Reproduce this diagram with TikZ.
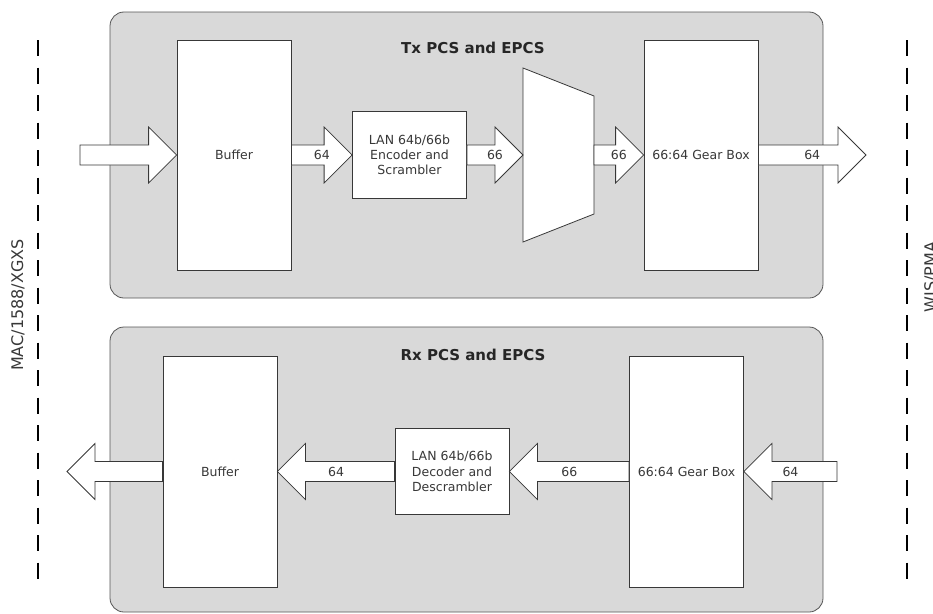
\documentclass[tikz,border=0pt]{standalone}
\usepackage{fontspec}
\setmainfont{DejaVu Sans}
\usetikzlibrary{calc}

\definecolor{panelgray}{HTML}{D9D9D9}
\definecolor{linegray}{HTML}{383838}

\tikzset{
  panel/.style={draw=linegray!85, fill=panelgray, rounded corners=14pt, line width=0.8pt},
  blk/.style={draw=linegray, fill=white, line width=0.8pt, align=center,
    text=linegray, font=\fontsize{12.5}{15.3}\selectfont},
  lbl/.style={text=linegray, font=\fontsize{12.5}{15.3}\selectfont, inner sep=0pt},
  ttl/.style={text=black!85, font=\fontsize{15}{18}\selectfont\bfseries},
  side/.style={text=linegray, font=\fontsize{16}{19}\selectfont, rotate=90, inner sep=0pt},
  bnd/.style={line width=2.2pt, dash pattern=on 16pt off 11.5pt},
  fatarrow/.style={draw=linegray, fill=white, line width=0.8pt, to path={
    ($(\tikztostart)+(0,10pt)$) -- ($(\tikztotarget)!28pt!(\tikztostart)+(0,10pt)$)
    -- ($(\tikztotarget)!28pt!(\tikztostart)+(0,28pt)$) -- (\tikztotarget)
    -- ($(\tikztotarget)!28pt!(\tikztostart)-(0,28pt)$)
    -- ($(\tikztotarget)!28pt!(\tikztostart)-(0,10pt)$)
    -- ($(\tikztostart)-(0,10pt)$) -- cycle}}
}

\begin{document}
\begin{tikzpicture}[x=1pt, y=-1pt]
\useasboundingbox (0,0) rectangle (933,613);

% boundaries
\draw[bnd] (38,40) -- (38,588);
\draw[bnd, line width=1.5pt] (907,40) -- (907,588);
\node[side] (mac) at (18,305) {MAC/1588/XGXS};
\node[side] (wis) at (931,277) {WIS/PMA};

% transmit side
\node[panel, minimum width=713pt, minimum height=286pt] (txpanel) at (466.5,155) {};
\node[ttl] (txtitle) at (473,48) {Tx PCS and EPCS};

\begin{scope}[minimum width=114pt]
  \node[blk, minimum height=230pt] (txbuf) at (234,155) {Buffer};
  \node[blk, minimum height=87pt] (enc) at (409.5,155) {LAN 64b/66b\\Encoder and\\Scrambler};
  \node[blk, minimum height=230pt] (txgear) at (701,155) {66:64 Gear Box};
\end{scope}

\draw[draw=linegray, fill=white, line width=0.8pt] (523,68) -- (594,96) -- (594,214) -- (523,242) -- cycle;
\coordinate (muxw) at (523,155);
\coordinate (muxe) at (594,155);
\coordinate (txin) at (80,155);
\coordinate (txout) at (866,155);

\path (txin) edge[fatarrow] (txbuf.west);
\path (txbuf.east) edge[fatarrow] (enc.west);
\path (enc.east) edge[fatarrow] (muxw);
\path (muxe) edge[fatarrow] (txgear.west);
\path (txgear.east) edge[fatarrow] (txout);

\path (txbuf.east) -- node[lbl] (txl0) {64} (enc.west);
\path (enc.east) -- node[lbl] (txl1) {66} (muxw);
\path (muxe) -- node[lbl] (txl2) {66} (txgear.west);
\path (txgear.east) -- node[lbl] (txl3) {64} (txout);

% receive side
\node[panel, minimum width=713pt, minimum height=285pt] (rxpanel) at (466.5,469.5) {};
\node[ttl] (rxtitle) at (473,355) {Rx PCS and EPCS};

\begin{scope}[minimum width=114pt]
  \node[blk, minimum height=231pt] (rxbuf) at (220,471.5) {Buffer};
  \node[blk, minimum height=86pt] (dec) at (452,471.5) {LAN 64b/66b\\Decoder and\\Descrambler};
  \node[blk, minimum height=231pt] (rxgear) at (686.5,471.5) {66:64 Gear Box};
\end{scope}

\coordinate (rxin) at (837,471.5);
\coordinate (rxout) at (67,471.5);

\path (rxin) edge[fatarrow] (rxgear.east);
\path (rxgear.west) edge[fatarrow] (dec.east);
\path (dec.west) edge[fatarrow] (rxbuf.east);
\path (rxbuf.west) edge[fatarrow] (rxout);

\path (rxin) -- node[lbl] (rxl0) {64} (rxgear.east);
\path (rxgear.west) -- node[lbl] (rxl1) {66} (dec.east);
\path (dec.west) -- node[lbl] (rxl2) {64} (rxbuf.east);

\end{tikzpicture}
\end{document}
